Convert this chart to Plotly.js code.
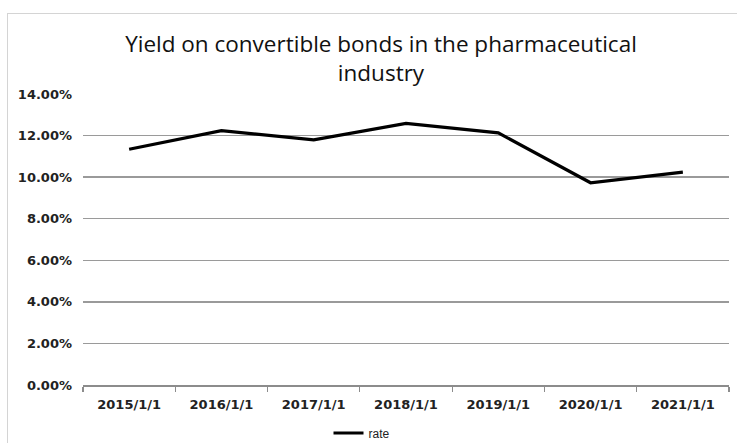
<!DOCTYPE html>
<html>
<head>
<meta charset="utf-8">
<script src="https://cdn.plot.ly/plotly-3.0.1.min.js"></script>
<style>
  html, body { margin: 0; padding: 0; background: #fff; }
  #frame { position: absolute; left: 7px; top: 13px; width: 740px; height: 440px; border: 1.5px solid #d4d4d4; }
  #chart { position: absolute; left: 0; top: 0; width: 737px; height: 443px; }
</style>
</head>
<body>
<div id="frame"></div>
<div id="chart"></div>
<script>
const categories = ["2015/1/1", "2016/1/1", "2017/1/1", "2018/1/1", "2019/1/1", "2020/1/1", "2021/1/1"];
const rate = [0.1134, 0.1224, 0.1179, 0.1259, 0.1213, 0.0973, 0.1024];
const seriesName = "rate";
const titleText = "Yield on convertible bonds in the pharmaceutical<br>industry";

const trace = {
  type: "scatter",
  mode: "lines",
  x: categories,
  y: rate,
  name: seriesName,
  line: { color: "#000000", width: 3.2 }
};

const tickFont = { size: 13, color: "#222", family: "DejaVu Sans, sans-serif", weight: "bold" };

const layout = {
  width: 737,
  height: 443,
  paper_bgcolor: "rgba(0,0,0,0)",
  plot_bgcolor: "rgba(0,0,0,0)",
  margin: { l: 83, r: 8, t: 94, b: 58, autoexpand: false },
  font: { family: "DejaVu Sans, sans-serif", color: "#222" },
  title: {
    text: titleText,
    font: { size: 22.5, color: "#111", family: "Open Sans, Liberation Sans, sans-serif" },
    xref: "container", x: 381 / 737, xanchor: "center",
    yref: "container", y: 1 - 52 / 443, yanchor: "top"
  },
  xaxis: {
    type: "category",
    range: [-0.5, categories.length - 0.5],
    showgrid: false,
    showline: true,
    linecolor: "#8c8c8c",
    linewidth: 1.5,
    ticks: "outside",
    tickson: "boundaries",
    ticklen: 5,
    tickcolor: "#8c8c8c",
    tickwidth: 1.2,
    ticklabelstandoff: 7,
    tickfont: tickFont,
    fixedrange: true
  },
  yaxis: {
    range: [0, 0.14],
    dtick: 0.02,
    tick0: 0,
    tickformat: ".2%",
    showgrid: true,
    gridcolor: "#9a9a9a",
    gridwidth: 1.5,
    zeroline: false,
    showline: false,
    ticks: "",
    ticklabelstandoff: 10,
    tickfont: tickFont,
    fixedrange: true
  },
  showlegend: true,
  legend: {
    orientation: "h",
    xref: "container",
    x: 362 / 737,
    xanchor: "center",
    yref: "container",
    y: 1 - 433 / 443,
    yanchor: "middle",
    font: { size: 12, color: "#222", family: "Liberation Sans, Arial, sans-serif" },
    bgcolor: "rgba(0,0,0,0)"
  }
};

Plotly.newPlot("chart", [trace], layout, { displayModeBar: false, staticPlot: true });
</script>
</body>
</html>
